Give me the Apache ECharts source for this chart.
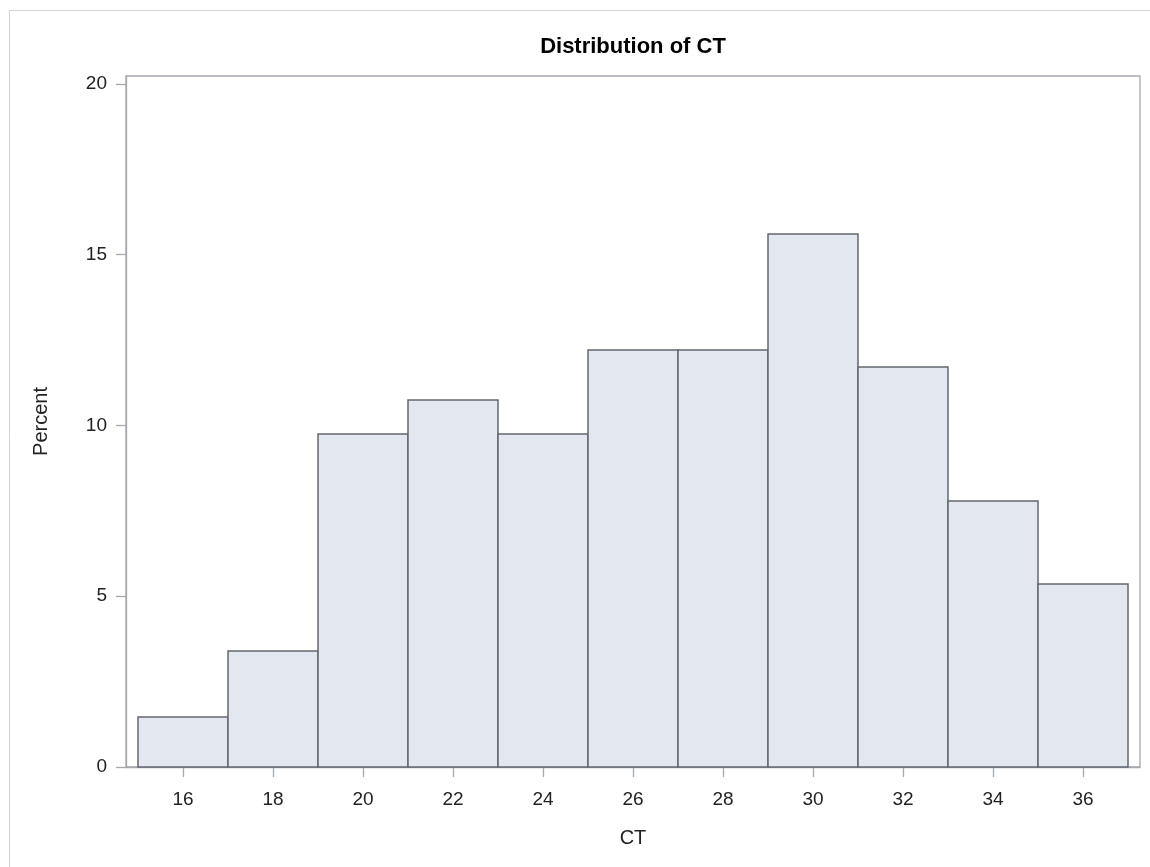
<!DOCTYPE html>
<html>
<head>
<meta charset="utf-8">
<script src="https://cdn.jsdelivr.net/npm/echarts@6/dist/echarts.min.js"></script>
<style>
html,body{margin:0;padding:0;background:#fff;}
#chart{width:1150px;height:867px;}
</style>
</head>
<body>
<div id="chart"></div>
<script>
// Histogram bins (lower edge, upper edge) and percent per bin
const binLow  = [15, 17, 19, 21, 23, 25, 27, 29, 31, 33, 35];
const binHigh = [17, 19, 21, 23, 25, 27, 29, 31, 33, 35, 37];
const percent = [1.46, 3.41, 9.76, 10.73, 9.76, 12.20, 12.20, 15.61, 11.71, 7.80, 5.37];
const xTicks = [16, 18, 20, 22, 24, 26, 28, 30, 32, 34, 36];
const yTicks = [0, 5, 10, 15, 20];

const FONT = '"Liberation Sans", Arial, sans-serif';
const data = binLow.map((lo, i) => [lo, binHigh[i], percent[i]]);

const chart = echarts.init(document.getElementById('chart'), null, {renderer: 'canvas'});
chart.setOption({
  animation: false,
  backgroundColor: '#ffffff',
  title: {
    text: 'Distribution of CT',
    left: 628, textAlign: 'center',
    top: 31,
    textStyle: {fontFamily: FONT, fontSize: 22, fontWeight: 'bold', color: '#000'}
  },
  graphic: [{
    type: 'rect', silent: true, z: -10,
    shape: {x: 9.5, y: 10.5, width: 2000, height: 2000},
    style: {fill: 'none', stroke: '#d3d3d3', lineWidth: 1}
  }],
  grid: {
    left: 126, right: 10, top: 76, bottom: 100,
    show: true, borderColor: '#a4a9af', borderWidth: 1.3, backgroundColor: 'transparent'
  },
  xAxis: {
    type: 'value', min: 14.733, max: 37.267,
    name: 'CT', nameLocation: 'middle', nameGap: 61,
    nameTextStyle: {fontFamily: FONT, fontSize: 20, color: '#222'},
    axisLine: {show: true, lineStyle: {color: '#a4a9af', width: 1.3}},
    axisTick: {show: true, length: 10, customValues: xTicks, lineStyle: {color: '#a4a9af', width: 1.3}},
    axisLabel: {customValues: xTicks, margin: 23, fontFamily: FONT, fontSize: 19, color: '#222'},
    splitLine: {show: false}
  },
  yAxis: {
    type: 'value', min: 0, max: 20.23,
    name: 'Percent', nameLocation: 'middle', nameGap: 75, nameRotate: 90,
    nameTextStyle: {fontFamily: FONT, fontSize: 20, color: '#222'},
    axisLine: {show: true, lineStyle: {color: '#a4a9af', width: 1.3}},
    axisTick: {show: true, length: 10, customValues: yTicks, lineStyle: {color: '#a4a9af', width: 1.3}},
    axisLabel: {customValues: yTicks, margin: 19, fontFamily: FONT, fontSize: 19, color: '#222'},
    splitLine: {show: false}
  },
  series: [{
    type: 'custom',
    data: data,
    encode: {x: [0, 1], y: 2},
    renderItem: function (params, api) {
      const p0 = api.coord([api.value(0), 0]);
      const p1 = api.coord([api.value(1), api.value(2)]);
      return {
        type: 'rect',
        shape: {x: Math.round(p0[0]), y: Math.round(p1[1]),
                width: Math.round(p1[0]) - Math.round(p0[0]),
                height: Math.round(p0[1]) - Math.round(p1[1])},
        style: {fill: '#e3e7f0', stroke: '#63676e', lineWidth: 1.5}
      };
    }
  }]
});
</script>
</body>
</html>
